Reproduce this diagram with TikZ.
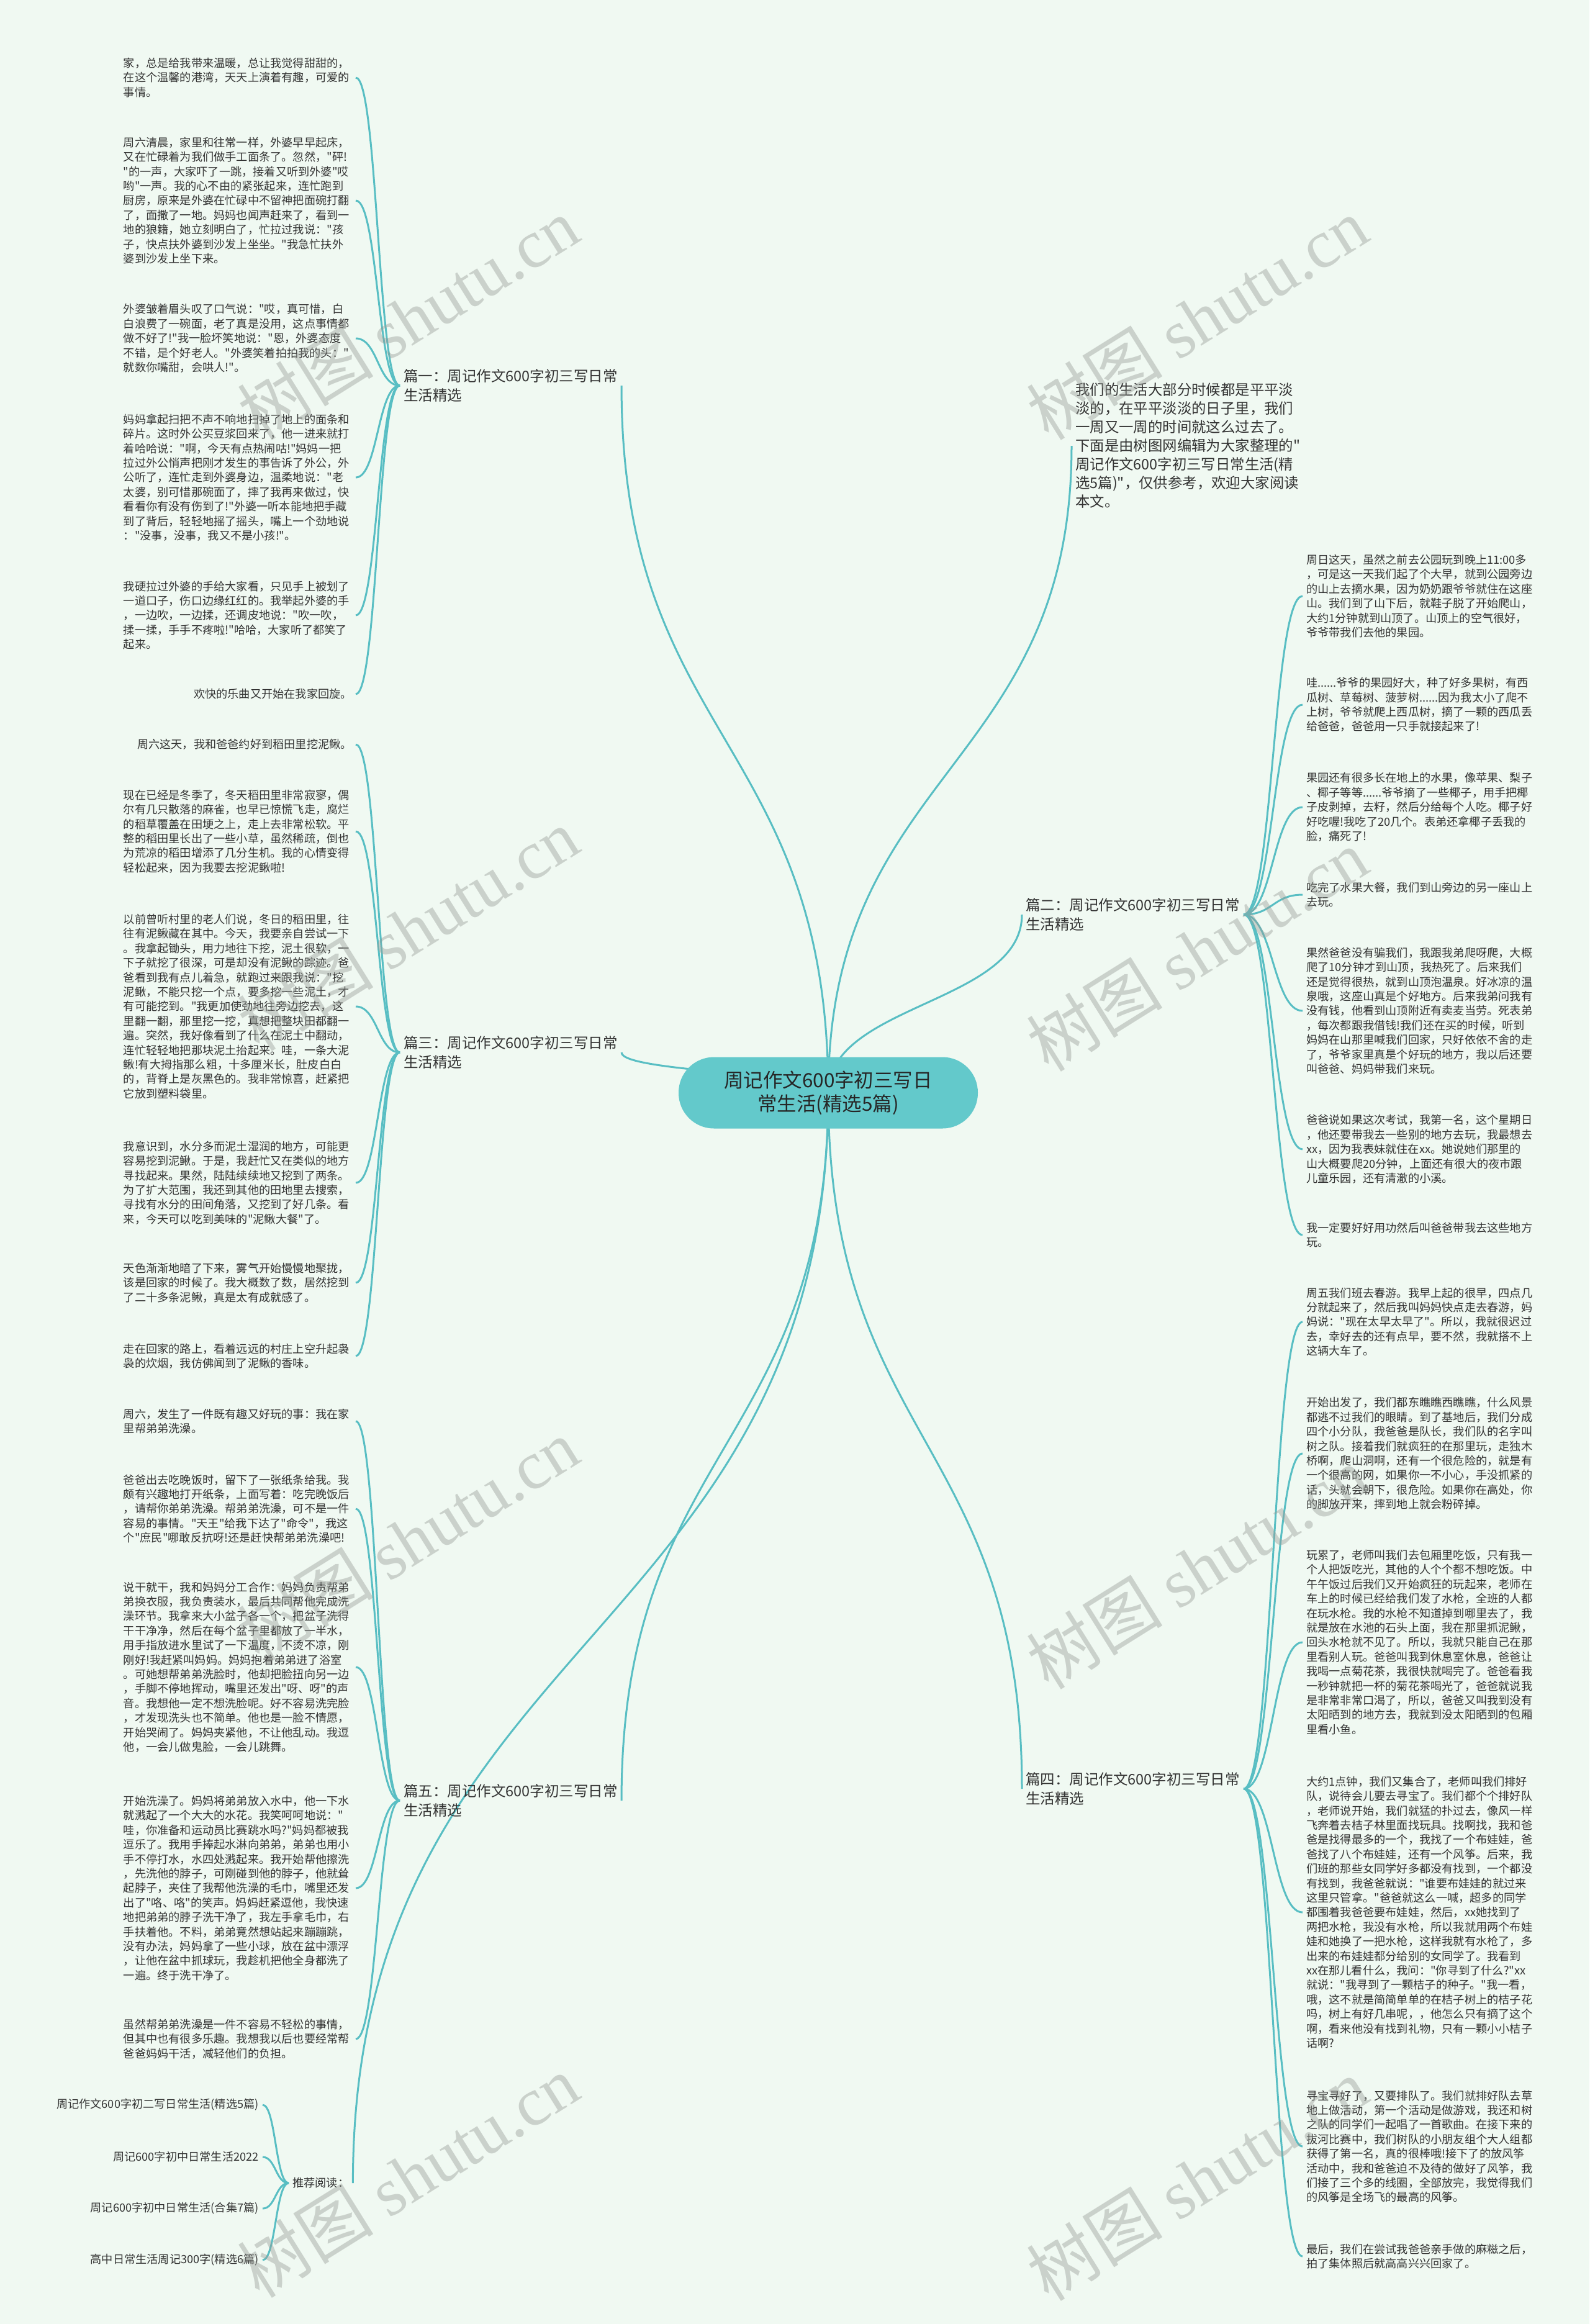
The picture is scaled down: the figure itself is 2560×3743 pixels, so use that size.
\documentclass[tikz,border=0pt]{standalone}
\usepackage{fontspec}
\setmainfont{Noto Sans CJK SC}
\newfontfamily\cnfont{Noto Sans CJK SC}
\newfontfamily\wmlatin{Liberation Serif}
\usetikzlibrary{calc}
\definecolor{mapBg}{RGB}{240,249,242}
\definecolor{mapLine}{RGB}{88,190,195}
\definecolor{mapRoot}{RGB}{99,201,203}
\definecolor{mapText}{RGB}{51,51,51}
\definecolor{mapMark}{RGB}{150,156,150}
\pgfdeclarelayer{lines}
\pgfsetlayers{lines,main}
\tikzset{mmpanel/.style={
  x=1pt, y=-1pt,
  root/.style={rounded corners=57pt, fill=mapRoot, draw=none, minimum width=482pt, minimum height=115pt, align=center, text=black!85, font=\cnfont\fontsize{31.5}{38}\selectfont},
  topic/.style={anchor=west, align=left, inner xsep=6pt, text=mapText, font=\cnfont\fontsize{23.5}{31}\selectfont},
  leafl/.style={anchor=east, text width=368pt, align=left, inner xsep=6pt, inner ysep=2pt, text=mapText, font=\cnfont\fontsize{18.2}{23.4}\selectfont},
  leafr/.style={anchor=west, text width=378pt, align=left, inner xsep=6pt, inner ysep=2pt, text=mapText, font=\cnfont\fontsize{18.2}{23.4}\selectfont},
  cite/.style={anchor=east, align=right, inner xsep=6pt, text=mapText, font=\cnfont\fontsize{18.2}{23.4}\selectfont},
  twig/.style={draw=mapLine, line width=3pt},
  wmark/.style={rotate=32, text=mapMark, opacity=0.42, font=\cnfont\fontsize{110}{110}\selectfont},
}}
% horizontal s-curve (topic -> leaf)
\newcommand\twiglink[2]{%
  \coordinate (tw) at ($(#1)!0.5!(#2)$);
  \draw[twig] (#1) .. controls (tw |- #1) and (tw |- #2) .. (#2);}
% vertical s-curve (root -> topic)
\newcommand\rootlink[2]{%
  \coordinate (tw) at ($(#1)!0.5!(#2)$);
  \draw[twig] (#1) .. controls (#1 |- tw) and (#2 |- tw) .. (#2);}

\begin{document}
\begin{tikzpicture}[mmpanel]
\useasboundingbox (0,0) rectangle (2560,3743);

% =====================================================================
% root and topics
% =====================================================================
\node[root] (ctr) at (1334,1760) {周记作文600字初三写日\\常生活(精选5篇)};

\node[topic] (p1) at (644,621)  {篇一：周记作文600字初三写日常\\生活精选};
\node[topic] (p3) at (644,1695) {篇三：周记作文600字初三写日常\\生活精选};
\node[topic] (p5) at (644,2900) {篇五：周记作文600字初三写日常\\生活精选};
\node[topic] (p2) at (1646,1473) {篇二：周记作文600字初三写日常\\生活精选};
\node[topic] (p4) at (1646,2881) {篇四：周记作文600字初三写日常\\生活精选};

\node[topic, text width=370pt, font=\cnfont\fontsize{23.4}{30}\selectfont] (intro) at (1726,718) {我们的生活大部分时候都是平平淡\\淡的，在平平淡淡的日子里，我们\\一周又一周的时间就这么过去了。\\下面是由树图网编辑为大家整理的"\\周记作文600字初三写日常生活(精\\选5篇)"，仅供参考，欢迎大家阅读\\本文。};

% =====================================================================
% left column: 篇一, 篇三, 篇五
% =====================================================================
\node[leafl] (l1) at (573,125) {家，总是给我带来温暖，总让我觉得甜甜的，\\在这个温馨的港湾，天天上演着有趣，可爱的\\事情。};
\node[leafl] (l2) at (573,323) {周六清晨，家里和往常一样，外婆早早起床，\\又在忙碌着为我们做手工面条了。忽然，"砰!\\"的一声，大家吓了一跳，接着又听到外婆"哎\\哟"一声。我的心不由的紧张起来，连忙跑到\\厨房，原来是外婆在忙碌中不留神把面碗打翻\\了，面撒了一地。妈妈也闻声赶来了，看到一\\地的狼籍，她立刻明白了，忙拉过我说："孩\\子，快点扶外婆到沙发上坐坐。"我急忙扶外\\婆到沙发上坐下来。};
\node[leafl] (l3) at (573,545) {外婆皱着眉头叹了口气说："哎，真可惜，白\\白浪费了一碗面，老了真是没用，这点事情都\\做不好了!"我一脸坏笑地说："恩，外婆态度\\不错，是个好老人。"外婆笑着拍拍我的头："\\就数你嘴甜，会哄人!"。};
\node[leafl] (l4) at (573,769) {妈妈拿起扫把不声不响地扫掉了地上的面条和\\碎片。这时外公买豆浆回来了，他一进来就打\\着哈哈说："啊，今天有点热闹咕!"妈妈一把\\拉过外公悄声把刚才发生的事告诉了外公，外\\公听了，连忙走到外婆身边，温柔地说："老\\太婆，别可惜那碗面了，摔了我再来做过，快\\看看你有没有伤到了!"外婆一听本能地把手藏\\到了背后，轻轻地摇了摇头，嘴上一个劲地说\\："没事，没事，我又不是小孩!"。};
\node[leafl] (l5) at (573,991) {我硬拉过外婆的手给大家看，只见手上被划了\\一道口子，伤口边缘红红的。我举起外婆的手\\，一边吹，一边揉，还调皮地说："吹一吹，\\揉一揉，手手不疼啦!"哈哈，大家听了都笑了\\起来。};
\node[leafl, align=right] (l6) at (573,1118) {欢快的乐曲又开始在我家回旋。};

\node[leafl, align=right] (l7) at (573,1199) {周六这天，我和爸爸约好到稻田里挖泥鳅。};
\node[leafl] (l8) at (573,1339) {现在已经是冬季了，冬天稻田里非常寂寥，偶\\尔有几只散落的麻雀，也早已惊慌飞走，腐烂\\的稻草覆盖在田埂之上，走上去非常松软。平\\整的稻田里长出了一些小草，虽然稀疏，倒也\\为荒凉的稻田增添了几分生机。我的心情变得\\轻松起来，因为我要去挖泥鳅啦!};
\node[leafl] (l9) at (573,1621) {以前曾听村里的老人们说，冬日的稻田里，往\\往有泥鳅藏在其中。今天，我要亲自尝试一下\\。我拿起锄头，用力地往下挖，泥土很软，一\\下子就挖了很深，可是却没有泥鳅的踪迹。爸\\爸看到我有点儿着急，就跑过来跟我说："挖\\泥鳅，不能只挖一个点，要多挖一些泥土，才\\有可能挖到。"我更加使劲地往旁边挖去，这\\里翻一翻，那里挖一挖，真想把整块田都翻一\\遍。突然，我好像看到了什么在泥土中翻动，\\连忙轻轻地把那块泥土抬起来。哇，一条大泥\\鳅!有大拇指那么粗，十多厘米长，肚皮白白\\的，背脊上是灰黑色的。我非常惊喜，赶紧把\\它放到塑料袋里。};
\node[leafl] (l10) at (573,1905) {我意识到，水分多而泥土湿润的地方，可能更\\容易挖到泥鳅。于是，我赶忙又在类似的地方\\寻找起来。果然，陆陆续续地又挖到了两条。\\为了扩大范围，我还到其他的田地里去搜索，\\寻找有水分的田间角落，又挖到了好几条。看\\来，今天可以吃到美味的"泥鳅大餐"了。};
\node[leafl] (l11) at (573,2066) {天色渐渐地暗了下来，雾气开始慢慢地聚拢，\\该是回家的时候了。我大概数了数，居然挖到\\了二十多条泥鳅，真是太有成就感了。};
\node[leafl] (l12) at (573,2184) {走在回家的路上，看着远远的村庄上空升起袅\\袅的炊烟，我仿佛闻到了泥鳅的香味。};

\node[leafl] (l13) at (573,2289) {周六，发生了一件既有趣又好玩的事：我在家\\里帮弟弟洗澡。};
\node[leafl] (l14) at (573,2430) {爸爸出去吃晚饭时，留下了一张纸条给我。我\\颇有兴趣地打开纸条，上面写着：吃完晚饭后\\，请帮你弟弟洗澡。帮弟弟洗澡，可不是一件\\容易的事情。"天王"给我下达了"命令"，我这\\个"庶民"哪敢反抗呀!还是赶快帮弟弟洗澡吧!};
\node[leafl] (l15) at (573,2685) {说干就干，我和妈妈分工合作：妈妈负责帮弟\\弟换衣服，我负责装水，最后共同帮他完成洗\\澡环节。我拿来大小盆子各一个，把盆子洗得\\干干净净，然后在每个盆子里都放了一半水，\\用手指放进水里试了一下温度，不烫不凉，刚\\刚好!我赶紧叫妈妈。妈妈抱着弟弟进了浴室\\。可她想帮弟弟洗脸时，他却把脸扭向另一边\\，手脚不停地挥动，嘴里还发出"呀、呀"的声\\音。我想他一定不想洗脸呢。好不容易洗完脸\\，才发现洗头也不简单。他也是一脸不情愿，\\开始哭闹了。妈妈夹紧他，不让他乱动。我逗\\他，一会儿做鬼脸，一会儿跳舞。};
\node[leafl] (l16) at (573,3041) {开始洗澡了。妈妈将弟弟放入水中，他一下水\\就溅起了一个大大的水花。我笑呵呵地说："\\哇，你准备和运动员比赛跳水吗?"妈妈都被我\\逗乐了。我用手捧起水淋向弟弟，弟弟也用小\\手不停打水，水四处溅起来。我开始帮他擦洗\\，先洗他的脖子，可刚碰到他的脖子，他就耸\\起脖子，夹住了我帮他洗澡的毛巾，嘴里还发\\出了"咯、咯"的笑声。妈妈赶紧逗他，我快速\\地把弟弟的脖子洗干净了，我左手拿毛巾，右\\手扶着他。不料，弟弟竟然想站起来蹦蹦跳，\\没有办法，妈妈拿了一些小球，放在盆中漂浮\\，让他在盆中抓球玩，我趁机把他全身都洗了\\一遍。终于洗干净了。};
\node[leafl] (l17) at (573,3284) {虽然帮弟弟洗澡是一件不容易不轻松的事情，\\但其中也有很多乐趣。我想我以后也要经常帮\\爸爸妈妈干活，减轻他们的负担。};

% recommended reading
\node[anchor=west, inner xsep=6pt, text=mapText, font=\cnfont\fontsize{18.2}{23.4}\selectfont] (rec) at (465,3516) {推荐阅读：};
\node[cite] (k1) at (423,3390) {周记作文600字初二写日常生活(精选5篇)};
\node[cite] (k2) at (423,3474) {周记600字初中日常生活2022};
\node[cite] (k3) at (423,3557) {周记600字初中日常生活(合集7篇)};
\node[cite] (k4) at (423,3640) {高中日常生活周记300字(精选6篇)};

% =====================================================================
% right column: 篇二, 篇四
% =====================================================================
\node[leafr] (r1) at (2098,960) {周日这天，虽然之前去公园玩到晚上11:00多\\，可是这一天我们起了个大早，就到公园旁边\\的山上去摘水果，因为奶奶跟爷爷就住在这座\\山。我们到了山下后，就鞋子脱了开始爬山，\\大约1分钟就到山顶了。山顶上的空气很好，\\爷爷带我们去他的果园。};
\node[leafr] (r2) at (2098,1135) {哇......爷爷的果园好大，种了好多果树，有西\\瓜树、草莓树、菠萝树......因为我太小了爬不\\上树，爷爷就爬上西瓜树，摘了一颗的西瓜丢\\给爸爸，爸爸用一只手就接起来了!};
\node[leafr] (r3) at (2098,1300) {果园还有很多长在地上的水果，像苹果、梨子\\、椰子等等......爷爷摘了一些椰子，用手把椰\\子皮剥掉，去籽，然后分给每个人吃。椰子好\\好吃喔!我吃了20几个。表弟还拿椰子丢我的\\脸，痛死了!};
\node[leafr] (r4) at (2098,1441) {吃完了水果大餐，我们到山旁边的另一座山上\\去玩。};
\node[leafr] (r5) at (2098,1628) {果然爸爸没有骗我们，我跟我弟爬呀爬，大概\\爬了10分钟才到山顶，我热死了。后来我们\\还是觉得很热，就到山顶泡温泉。好冰凉的温\\泉哦，这座山真是个好地方。后来我弟问我有\\没有钱，他看到山顶附近有卖麦当劳。死表弟\\，每次都跟我借钱!我们还在买的时候，听到\\妈妈在山那里喊我们回家，只好依依不舍的走\\了，爷爷家里真是个好玩的地方，我以后还要\\叫爸爸、妈妈带我们来玩。};
\node[leafr] (r6) at (2098,1851) {爸爸说如果这次考试，我第一名，这个星期日\\，他还要带我去一些别的地方去玩，我最想去\\xx，因为我表妹就住在xx。她说她们那里的\\山大概要爬20分钟，上面还有很大的夜市跟\\儿童乐园，还有清澈的小溪。};
\node[leafr] (r7) at (2098,1989) {我一定要好好用功然后叫爸爸带我去这些地方\\玩。};

\node[leafr] (r8) at (2098,2129) {周五我们班去春游。我早上起的很早，四点几\\分就起来了，然后我叫妈妈快点走去春游，妈\\妈说："现在太早太早了"。所以，我就很迟过\\去，幸好去的还有点早，要不然，我就搭不上\\这辆大车了。};
\node[leafr] (r9) at (2098,2341) {开始出发了，我们都东瞧瞧西瞧瞧，什么风景\\都逃不过我们的眼睛。到了基地后，我们分成\\四个小分队，我爸爸是队长，我们队的名字叫\\树之队。接着我们就疯狂的在那里玩，走独木\\桥啊，爬山洞啊，还有一个很危险的，就是有\\一个很高的网，如果你一不小心，手没抓紧的\\话，头就会朝下，很危险。如果你在高处，你\\的脚放开来，摔到地上就会粉碎掉。};
\node[leafr] (r10) at (2098,2645) {玩累了，老师叫我们去包厢里吃饭，只有我一\\个人把饭吃光，其他的人个个都不想吃饭。中\\午午饭过后我们又开始疯狂的玩起来，老师在\\车上的时候已经给我们发了水枪，全班的人都\\在玩水枪。我的水枪不知道掉到哪里去了，我\\就是放在水池的石头上面，我在那里抓泥鳅，\\回头水枪就不见了。所以，我就只能自己在那\\里看别人玩。爸爸叫我到休息室休息，爸爸让\\我喝一点菊花茶，我很快就喝完了。爸爸看我\\一秒钟就把一杯的菊花茶喝光了，爸爸就说我\\是非常非常口渴了，所以，爸爸又叫我到没有\\太阳晒到的地方去，我就到没太阳晒到的包厢\\里看小鱼。};
\node[leafr] (r11) at (2098,3080) {大约1点钟，我们又集合了，老师叫我们排好\\队，说待会儿要去寻宝了。我们都个个排好队\\，老师说开始，我们就猛的扑过去，像风一样\\飞奔着去桔子林里面找玩具。找啊找，我和爸\\爸是找得最多的一个，我找了一个布娃娃，爸\\爸找了八个布娃娃，还有一个风筝。后来，我\\们班的那些女同学好多都没有找到，一个都没\\有找到，我爸爸就说："谁要布娃娃的就过来\\这里只管拿。"爸爸就这么一喊，超多的同学\\都围着我爸爸要布娃娃，然后，xx她找到了\\两把水枪，我没有水枪，所以我就用两个布娃\\娃和她换了一把水枪，这样我就有水枪了，多\\出来的布娃娃都分给别的女同学了。我看到\\xx在那儿看什么，我问："你寻到了什么?"xx\\就说："我寻到了一颗桔子的种子。"我一看，\\哦，这不就是简简单单的在桔子树上的桔子花\\吗，树上有好几串呢，，他怎么只有摘了这个\\啊，看来他没有找到礼物，只有一颗小小桔子\\话啊?};
\node[leafr] (r12) at (2098,3457) {寻宝寻好了，又要排队了。我们就排好队去草\\地上做活动，第一个活动是做游戏，我还和树\\之队的同学们一起唱了一首歌曲。在接下来的\\拔河比赛中，我们树队的小朋友组个大人组都\\获得了第一名，真的很棒哦!接下了的放风筝\\活动中，我和爸爸迫不及待的做好了风筝，我\\们接了三个多的线圈，全部放完，我觉得我们\\的风筝是全场飞的最高的风筝。};
\node[leafr] (r13) at (2098,3634) {最后，我们在尝试我爸爸亲手做的麻糍之后，\\拍了集体照后就高高兴兴回家了。};

% =====================================================================
% connectors (under the nodes)
% =====================================================================
\begin{pgfonlayer}{lines}
  \fill[mapBg] (0,0) rectangle (2560,3743);
  \foreach \t in {p1.east,p3.east,p5.east,rec.east,intro.west,p2.west,p4.west}{ \rootlink{ctr.center}{\t} }
  \foreach \n in {1,...,6}{ \twiglink{p1.west}{l\n.east} }
  \foreach \n in {7,...,12}{ \twiglink{p3.west}{l\n.east} }
  \foreach \n in {13,...,17}{ \twiglink{p5.west}{l\n.east} }
  \foreach \n in {1,...,4}{ \twiglink{rec.west}{k\n.east} }
  \foreach \n in {1,...,7}{ \twiglink{p2.east}{r\n.west} }
  \foreach \n in {8,...,13}{ \twiglink{p4.east}{r\n.west} }
\end{pgfonlayer}

% watermarks
\foreach \wx/\wy [count=\i] in {657/513, 657/1497, 657/2480, 657/3505, 1928/513, 1928/1530, 1928/2525, 1928/3510}{
  \node[wmark] (wm\i) at (\wx,\wy) {树图 {\wmlatin shutu.cn}};
}

\end{tikzpicture}
\end{document}
